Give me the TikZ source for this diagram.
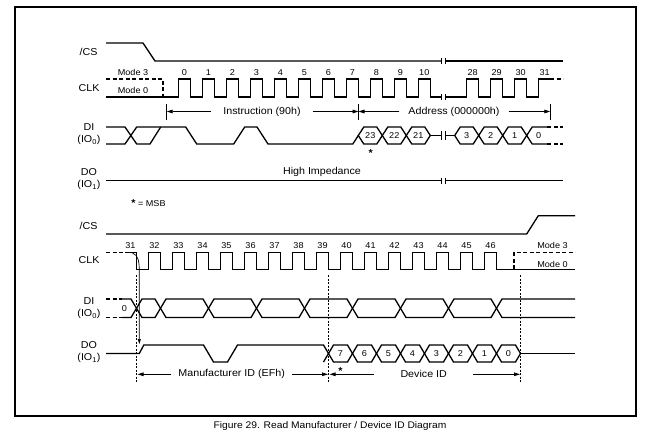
\documentclass[tikz,border=0pt]{standalone}
\usepackage{fontspec}
\setmainfont{Liberation Sans}[FakeStretch=1.07]
\usetikzlibrary{arrows.meta}

\begin{document}
\begin{tikzpicture}[x=1pt,y=-1pt,
    sig/.style={line width=1.3pt},
    sigdash/.style={line width=1.3pt, dash pattern=on 4pt off 2.5pt},
    guide/.style={line width=0.6pt, dash pattern=on 2pt off 1.5pt},
    tick/.style={line width=0.8pt},
    dim/.style={line width=0.8pt, -{Triangle[length=6pt,width=3.6pt]}},
    lbl/.style={font=\fontsize{10}{12}\selectfont, align=center, inner sep=0pt},
    num/.style={font=\fontsize{8.5}{10}\selectfont, inner sep=0pt},
    gap/.style={font=\fontsize{10}{12}\selectfont, inner ysep=0pt}]
    \useasboundingbox (0,0) rectangle (665,447);

    % Frame and caption
    \draw[line width=1.2pt] (15,7) rectangle (636,416);
    \node[font=\fontsize{9.6}{11}\selectfont] (cap) at (330,426.5) {Figure 29. Read Manufacturer / Device ID Diagram};

    % Signal names
    \node[lbl] (csA) at (88.5,52) {/CS};
    \node[lbl] (clkA) at (89,88) {CLK};
    \node[lbl] (diA) at (89,134.4) {DI\\(IO\textsubscript{0})};
    \node[lbl] (doA) at (89,179.2) {DO\\(IO\textsubscript{1})};
    \node[lbl] (csB) at (88.5,226) {/CS};
    \node[lbl] (clkB) at (89,260) {CLK};
    \node[lbl] (diB) at (89,308.3) {DI\\(IO\textsubscript{0})};
    \node[lbl] (doB) at (89,352.5) {DO\\(IO\textsubscript{1})};

    %%% Upper part: instruction and address

    % /CS
    \draw[sig] (106,43) -- (143,43) -- (155,61) -- (441,61);
    \draw[sig] (445,61) -- (563,61);

    % CLK
    \draw[sigdash] (106,79) -- (163,79) -- (163,97);
    \draw[sig] (106,97) \foreach \k in {0,...,10} {-- ({178.3+24*\k},97) -- ++(0,-18) -- ++(12,0) -- ++(0,18)} -- (441,97);
    \draw[sig] (445,97) \foreach \k in {0,1,2} {-- ({466.7+24*\k},97) -- ++(0,-18) -- ++(12,0) -- ++(0,18)} -- (538.7,97) -- (538.7,79) -- (550,79);
    \draw[sigdash] (550,79) -- (563,79);
    \node[num] (m3A) at (133,72.7) {Mode 3};
    \node[num] (m0A) at (133,90.7) {Mode 0};
    \foreach \k in {0,...,10}
        \node[num] (ta\k) at ({184.3+24*\k},73) {\k};
    \foreach \k [count=\i from 0] in {28,...,31}
        \node[num] (ta\k) at ({472.7+24*\i},73) {\k};

    % Instruction / Address spans
    \foreach \tx in {166.7,358.5,550.3}
        \draw[tick] (\tx,104) -- (\tx,120);
    \coordinate (sA0) at (166.7,111.5);
    \coordinate (sA1) at (358.5,111.5);
    \coordinate (sA2) at (550.3,111.5);
    \node[gap, inner xsep=12pt] (instr) at (262,111.5) {Instruction (90h)};
    \node[gap, inner xsep=9pt] (addr) at (454,111.5) {Address (000000h)};
    \draw[dim] (instr.west) -- (sA0);
    \draw[dim] (instr.east) -- (sA1);
    \draw[dim] (addr.west) -- (sA1);
    \draw[dim] (addr.east) -- (sA2);

    % DI
    \draw[sig] (106,127) -- (125,127) -- (136.7,144) -- (150,144) -- (160.7,127);
    \draw[sig] (106,144) -- (125,144) -- (136.7,127) -- (185.7,127) -- (196.7,144) -- (233.7,144) -- (244.7,127)
        -- (257,127) -- (268,144) -- (352.8,144) -- (358.3,135.5);
    \foreach \L/\t in {358.3/23, 382.3/22, 406.3/21, 454.7/3, 478.7/2, 502.7/1} {
        \draw[sig] (\L,135.5) -- ++(5.5,-8.5) -- ++(13,0) -- ++(5.5,8.5) -- ++(-5.5,8.5) -- ++(-13,0) -- cycle;
        \node[num] (da\t) at ({\L+12},135.5) {\t};
    }
    \draw[sig] (430.3,135.5) -- (441,135.5);
    \draw[sig] (445,135.5) -- (454.7,135.5);
    \draw[sig] (547,127) -- (532.2,127) -- (526.7,135.5) -- (532.2,144) -- (547,144);
    \draw[sigdash] (547,127) -- (563,127) (547,144) -- (563,144);
    \node[num] (da0) at (538.7,135.5) {0};
    \node[lbl] (msbA) at (370.7,153) {\textbf{*}};

    % DO
    \draw[sig] (106,180.7) -- (441,180.7);
    \draw[sig] (445,180.7) -- (563,180.7);
    \node[lbl] (hiz) at (322,171.5) {High Impedance};

    % Breaks in the time axis
    \foreach \by/\bh in {61/3, 97/3, 135.5/4.5, 180.7/3}
        \foreach \bx in {441,445}
            \draw[tick] (\bx,\by-\bh) -- (\bx,\by+\bh);

    \node[num] (key) at (148.5,203.3) {{\fontsize{10}{10}\selectfont\textbf{*}} = MSB};

    %%% Lower part: manufacturer and device ID

    % /CS
    \draw[sig] (106,234) -- (526.7,234) -- (538.3,215.7) -- (575,215.7);

    % CLK
    \draw[sigdash] (106,252.3) -- (125,252.3);
    \draw[sig] (125,252.3) -- (136.5,252.3) -- (136.5,269.3) \foreach \k in {0,...,14} {-- ({148.5+24*\k},269.3) -- ++(0,-17) -- ++(12,0) -- ++(0,17)} -- (575,269.3);
    \draw[sigdash] (514,269.3) -- (514,252.3) -- (575,252.3);
    \node[num] (m3B) at (552.5,245.7) {Mode 3};
    \node[num] (m0B) at (552.5,264) {Mode 0};
    \node[num] (tb31) at (130.5,245.7) {31};
    \foreach \k [count=\i from 0] in {32,...,46}
        \node[num] (tb\k) at ({154.5+24*\i},245.7) {\k};

    % Guide lines
    \foreach \gx in {136.5,328.5,520.5}
        \draw[guide] (\gx,275) -- (\gx,381.7);

    % DI
    \draw[sigdash] (106,299) -- (122,299) (106,317.5) -- (122,317.5);
    \draw[sig] (122,299) -- (131,299) -- (136.5,308.3) -- (131,317.5) -- (122,317.5);
    \node[num] (db0) at (124.3,308.3) {0};
    \foreach \L/\R in {136.5/160.5, 160.5/208.5, 208.5/256.5, 256.5/304.5, 304.5/352.5, 352.5/400.5, 400.5/448.5, 448.5/496.5}
        \draw[sig] (\L,308.3) -- ({\L+5.5},299) -- ({\R-5.5},299) -- (\R,308.3) -- ({\R-5.5},317.5) -- ({\L+5.5},317.5) -- cycle;
    \draw[sig] (575,299) -- (502,299) -- (496.5,308.3) -- (502,317.5) -- (575,317.5);

    % DO
    \draw[sig] (106,353.5) -- (139.3,353.5) -- (143.8,345) -- (203.5,345) -- (213.5,362) -- (227.5,362) -- (237.5,345)
        -- (323.5,345) -- (328.5,353.5) -- (323.5,362);
    \foreach \t [count=\i from 0] in {7,6,5,4,3,2,1,0} {
        \draw[sig] ({328.5+24*\i},353.5) -- ++(5,-8.5) -- ++(14,0) -- ++(5,8.5) -- ++(-5,8.5) -- ++(-14,0) -- cycle;
        \node[num] (dd\t) at ({340.5+24*\i},353.5) {\t};
    }
    \draw[sig] (520.5,353.5) -- (575,353.5);

    % Clock edge to first output bit
    \coordinate (edge31) at (132.5,253);
    \coordinate (dorise) at (139.3,344);
    \draw[line width=0.7pt, -{Triangle[length=5pt,width=3pt]}] (edge31) .. controls (138.5,255) and (139.3,262) .. (139.3,272) -- (dorise);

    % Manufacturer ID / Device ID spans
    \coordinate (sB0) at (137.5,374.3);
    \coordinate (sB1) at (328,374.3);
    \coordinate (sB2) at (329.5,374.3);
    \coordinate (sB3) at (520,374.3);
    \node[gap, inner xsep=7pt] (manu) at (231.7,374.3) {Manufacturer ID (EFh)};
    \node[gap, inner xsep=26pt] (devid) at (423.7,374.3) {Device ID};
    \draw[dim] (manu.west) -- (sB0);
    \draw[dim] (manu.east) -- (sB1);
    \draw[dim] (devid.west) -- (sB2);
    \draw[dim] (devid.east) -- (sB3);
    \node[lbl] (msbB) at (340.5,371.5) {\textbf{*}};

\end{tikzpicture}
\end{document}
